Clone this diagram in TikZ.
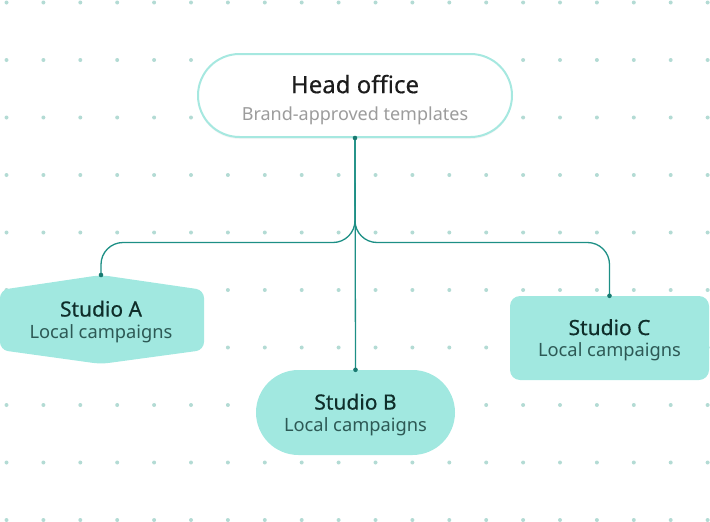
\documentclass[tikz,border=0pt]{standalone}
\usepackage{fontspec}
\setmainfont{Noto Sans}
\newfontfamily\titlefont[FakeBold=0.4]{Noto Sans}
\usetikzlibrary{shapes.misc}
\usetikzlibrary{shadows}
\usetikzlibrary{positioning}
\definecolor{griddot}{HTML}{B3DBD4}
\definecolor{linkteal}{HTML}{1D8F85}
\definecolor{studiofill}{HTML}{A1E8E0}
\definecolor{headborder}{HTML}{A6E8E0}
\definecolor{headtext}{HTML}{1C1C1C}
\definecolor{headsub}{HTML}{9C9C9C}
\definecolor{studiotext}{HTML}{0F2E2A}
\definecolor{studiosub}{HTML}{2D5955}
% first line is padded a little so the text sits lower in its box
\newcommand{\studiolabel}[1]{\rule{0pt}{20pt}{\titlefont\fontsize{21}{21.5}\selectfont\color{studiotext}#1}\\{\color{studiosub}Local campaigns}}
\tikzset{
  studio/.style={fill=studiofill, minimum width=199pt, minimum height=85pt, align=center,
    font=\fontsize{18.3}{21.5}\selectfont, inner sep=0pt},
  link/.style={draw=linkteal, line width=1.3pt, rounded corners=22pt},
  linkend/.style={fill=linkteal!85!black},
}

\begin{document}
\begin{tikzpicture}[x=1pt,y=-1pt]
  \useasboundingbox (0,0) rectangle (710,522);
  %dotted background
  \foreach \i in {0,...,19}
    \foreach \j in {0,...,9}
      \fill[griddot] (6.5+36.9*\i,2.5+57.5*\j) circle (2pt);

  \node[rounded rectangle, draw=headborder, line width=2pt, fill=white,
        minimum width=314pt, minimum height=83pt, align=center, inner sep=0pt,
        font=\fontsize{18}{27.3}\selectfont,
        drop shadow={opacity=0.08, shadow xshift=0pt, shadow yshift=-2pt}] (head) at (355,95.5)
        {\rule{0pt}{27pt}{\titlefont\fontsize{24}{27.3}\selectfont\color{headtext}Head office}\\{\color{headsub}Brand-approved templates}};

  %studio A has its own outline
  \fill[studiofill, rounded corners=8pt] (0,290) -- (101,275) -- (204,290) -- (204,350) -- (101,364) -- (0,350) -- cycle;
  \node[align=center, inner sep=0pt, font=\fontsize{18.3}{21.5}\selectfont] (studioA) at (101,319.5) {\studiolabel{Studio A}};
  \coordinate (studioAtop) at (101,275);

  \node[studio, rounded rectangle] (studioB) at (355.5,412.5) {\studiolabel{Studio B}};
  \node[studio, rounded corners=10pt, minimum height=84pt] (studioC) at (609.5,338) {\studiolabel{Studio C}};

  \coordinate (fork) at (355,242.5);
  \draw[link] (head.south) -- (fork) -| (studioAtop);
  \draw[link] (head.south) -- (fork) -| (studioC.north);
  \draw[link] (head.south) -- (studioB.north);
  \foreach \n in {head.south, studioAtop, studioB.north, studioC.north}
    \fill[linkend] (\n) circle (2.3pt);
\end{tikzpicture}
\end{document}
